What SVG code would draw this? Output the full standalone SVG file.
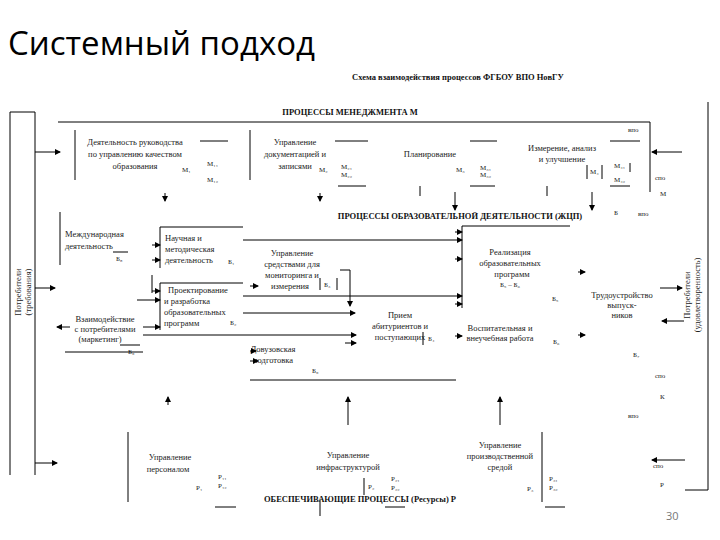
<svg xmlns="http://www.w3.org/2000/svg" width="720" height="540" viewBox="0 0 720 540">
<defs>
<marker id="a" markerWidth="6" markerHeight="6" refX="5" refY="3" orient="auto" markerUnits="userSpaceOnUse"><path d="M0,0 L6,3 L0,6z" fill="#000"/></marker>
<style>
.t{font-family:"Liberation Serif",serif;font-size:8.5px;fill:#222}
.s{font-family:"Liberation Serif",serif;font-size:7px;fill:#222}
.h{font-family:"Liberation Serif",serif;font-size:8.5px;font-weight:bold;fill:#111}
line,polyline{stroke:#000;stroke-width:1;fill:none}
.ar{marker-end:url(#a)}
</style>
</defs>
<rect width="720" height="540" fill="#fff"/>
<text x="8" y="55" font-family="'Open Sans','Liberation Sans',sans-serif" font-size="33" fill="#000">Системный подход</text>
<text x="352" y="80" class="h" font-size="11.5">Схема взаимодействия процессов ФГБОУ ВПО НовГУ</text>

<g id="frames">
<polyline points="35,475 35,112 10,112 10,475"/>
<polyline points="708,102 708,490 685,490"/>
<text class="t" font-size="10" transform="translate(21,292) rotate(-90)" text-anchor="middle">Потребители</text>
<text class="t" font-size="10" transform="translate(31,292) rotate(-90)" text-anchor="middle">(требования)</text>
<text class="t" font-size="10" transform="translate(690,295) rotate(-90)" text-anchor="middle">Потребители</text>
<text class="t" font-size="10" transform="translate(700,295) rotate(-90)" text-anchor="middle">(удовлетворенность)</text>
</g>

<g id="management">
<text class="h" x="350" y="115" text-anchor="middle">ПРОЦЕССЫ МЕНЕДЖМЕНТА   М</text>
<polyline points="58,122 650,122 650,192"/>
<text class="s" x="628" y="132">впо</text>
<text class="s" x="655" y="180">спо</text>
<text class="s" x="660" y="196">М</text>
<line x1="75" y1="130" x2="75" y2="180"/>
<text class="t" x="135" y="145" text-anchor="middle">Деятельность руководства</text>
<text class="t" x="135" y="157" text-anchor="middle">по управлению качеством</text>
<text class="t" x="135" y="169" text-anchor="middle">образования</text>
<text class="s" x="182" y="172">М₁</text>
<text class="s" x="207" y="166">М₁₁</text>
<text class="s" x="207" y="182">М₁₂</text>
<line x1="200" y1="141" x2="228" y2="141"/>
<line x1="250" y1="130" x2="250" y2="180"/>
<text class="t" x="295" y="145" text-anchor="middle">Управление</text>
<text class="t" x="295" y="157" text-anchor="middle">документацией и</text>
<text class="t" x="295" y="169" text-anchor="middle">записями</text>
<text class="s" x="319" y="172">М₂</text>
<text class="s" x="341" y="169">М₂₁</text>
<text class="s" x="341" y="177">М₂₂</text>
<line x1="335" y1="141" x2="368" y2="141"/>
<line x1="338" y1="186" x2="366" y2="186"/>
<text class="t" x="430" y="157" text-anchor="middle">Планирование</text>
<text class="s" x="456" y="172">М₃</text>
<text class="s" x="480" y="170">М₃₁</text>
<text class="s" x="480" y="177">М₃₂</text>
<line x1="470" y1="141" x2="497" y2="141"/>
<line x1="470" y1="186" x2="495" y2="186"/>
<line x1="420" y1="186" x2="420" y2="196"/>
<text class="t" x="562" y="151" text-anchor="middle">Измерение, анализ</text>
<text class="t" x="562" y="162" text-anchor="middle">и улучшение</text>
<line x1="587" y1="165" x2="587" y2="179"/>
<line x1="602" y1="165" x2="602" y2="179"/>
<text class="s" x="590" y="174">М₄</text>
<text class="s" x="614" y="168">М₄₁</text>
<text class="s" x="614" y="182">М₄₂</text>
<line x1="630" y1="163" x2="630" y2="172"/>
<line x1="610" y1="141" x2="640" y2="141"/>
<line x1="610" y1="186" x2="630" y2="186"/>
<line x1="547" y1="186" x2="547" y2="196"/>
</g>

<g id="education">
<text class="h" x="460" y="219" text-anchor="middle">ПРОЦЕССЫ ОБРАЗОВАТЕЛЬНОЙ ДЕЯТЕЛЬНОСТИ (ЖЦП)</text>
<text class="s" x="614" y="215">Б</text>
<text class="s" x="638" y="216">впо</text>
<line x1="60" y1="212" x2="60" y2="265"/>
<text class="t" x="65" y="237">Международная</text>
<text class="t" x="65" y="249">деятельность</text>
<line x1="113" y1="252" x2="128" y2="252"/>
<text class="s" x="116" y="261">Б₈</text>
<polyline points="243,227 160,227 160,268"/>
<text class="t" x="165" y="241">Научная и</text>
<text class="t" x="165" y="252">методическая</text>
<text class="t" x="165" y="263">деятельность</text>
<text class="s" x="228" y="264">Б₁</text>
<line x1="152" y1="275" x2="152" y2="293"/>
<polyline points="243,283 160,283 160,330"/>
<text class="t" x="168" y="293">Проектирование</text>
<text class="t" x="164" y="304">и разработка</text>
<text class="t" x="164" y="315">образовательных</text>
<text class="t" x="164" y="326">программ</text>
<text class="s" x="230" y="325">Б₂</text>
<text class="t" x="105" y="322" text-anchor="middle">Взаимодействие</text>
<text class="t" x="105" y="332" text-anchor="middle">с потребителями</text>
<text class="t" x="100" y="342" text-anchor="middle">(маркетинг)</text>
<line x1="120" y1="345" x2="140" y2="345"/>
<text class="s" x="128" y="354">Б₉</text>
<line x1="65" y1="352" x2="143" y2="352"/>
<text class="t" x="292" y="256" text-anchor="middle">Управление</text>
<text class="t" x="292" y="267" text-anchor="middle">средствами для</text>
<text class="t" x="292" y="278" text-anchor="middle">мониторинга и</text>
<text class="t" x="290" y="289" text-anchor="middle">измерения</text>
<line x1="320" y1="278" x2="320" y2="290"/>
<line x1="337" y1="278" x2="337" y2="290"/>
<text class="s" x="324" y="287">Б₃</text>
<text class="t" x="400" y="318" text-anchor="middle">Прием</text>
<text class="t" x="400" y="329" text-anchor="middle">абитуриентов и</text>
<text class="t" x="400" y="340" text-anchor="middle">поступающих</text>
<line x1="423" y1="332" x2="423" y2="345"/>
<text class="s" x="428" y="341">Б₄</text>
<line x1="462" y1="226" x2="570" y2="226"/>
<line x1="462" y1="226" x2="462" y2="308"/>
<text class="t" x="510" y="255" text-anchor="middle">Реализация</text>
<text class="t" x="510" y="266" text-anchor="middle">образовательных</text>
<text class="t" x="512" y="277" text-anchor="middle">программ</text>
<text class="s" x="510" y="287" text-anchor="middle">Б₅ – Б₆</text>
<text class="s" x="552" y="301">Б₅</text>
<text class="t" x="500" y="331" text-anchor="middle">Воспитательная и</text>
<text class="t" x="500" y="341" text-anchor="middle">внеучебная работа</text>
<text class="s" x="553" y="344">Б₆</text>
<text class="t" x="622" y="298" text-anchor="middle">Трудоустройство</text>
<text class="t" x="622" y="308" text-anchor="middle">выпуск-</text>
<text class="t" x="622" y="318" text-anchor="middle">ников</text>
<text class="s" x="633" y="357">Б₇</text>
<text class="s" x="655" y="378">спо</text>
<text class="t" x="273" y="352" text-anchor="middle">Довузовская</text>
<text class="t" x="273" y="363" text-anchor="middle">подготовка</text>
<text class="s" x="312" y="373">Б₉</text>
<line x1="250" y1="380" x2="456" y2="380"/>
<text class="s" x="660" y="399">К</text>
<text class="s" x="628" y="418">впо</text>
</g>

<g id="resources">
<line x1="128" y1="432" x2="128" y2="502"/>
<text class="t" x="170" y="460" text-anchor="middle">Управление</text>
<text class="t" x="168" y="472" text-anchor="middle">персоналом</text>
<text class="s" x="196" y="490">Р₁</text>
<text class="s" x="218" y="479">Р₁₁</text>
<text class="s" x="218" y="488">Р₁₂</text>
<line x1="215" y1="507" x2="236" y2="507"/>
<text class="t" x="348" y="458" text-anchor="middle">Управление</text>
<text class="t" x="348" y="470" text-anchor="middle">инфраструктурой</text>
<line x1="364" y1="478" x2="364" y2="495"/>
<text class="s" x="368" y="489">Р₂</text>
<text class="s" x="391" y="481">Р₂₁</text>
<text class="s" x="391" y="490">Р₂₂</text>
<line x1="320" y1="500" x2="320" y2="516"/>
<line x1="385" y1="507" x2="405" y2="507"/>
<text class="t" x="500" y="448" text-anchor="middle">Управление</text>
<text class="t" x="500" y="459" text-anchor="middle">производственной</text>
<text class="t" x="500" y="470" text-anchor="middle">средой</text>
<line x1="542" y1="432" x2="542" y2="502"/>
<text class="s" x="527" y="491">Р₃</text>
<text class="s" x="549" y="481">Р₃₁</text>
<text class="s" x="549" y="490">Р₃₂</text>
<line x1="545" y1="507" x2="565" y2="507"/>
<text class="s" x="653" y="468">спо</text>
<text class="s" x="660" y="487">Р</text>
<text class="h" x="360" y="502" text-anchor="middle">ОБЕСПЕЧИВАЮЩИЕ ПРОЦЕССЫ (Ресурсы)   Р</text>
<text x="666" y="520" font-family="'Open Sans','Liberation Sans',sans-serif" font-size="11" fill="#777">30</text>
</g>

<g id="connectors">
<line class="ar" x1="35" y1="152" x2="60" y2="152"/>
<line class="ar" x1="682" y1="152" x2="652" y2="152"/>
<line class="ar" x1="165" y1="193" x2="165" y2="201"/>
<line class="ar" x1="320" y1="193" x2="320" y2="201"/>
<line class="ar" x1="455" y1="192" x2="455" y2="210"/>
<line class="ar" x1="592" y1="192" x2="592" y2="210"/>
<line class="ar" x1="35" y1="288" x2="55" y2="288"/>
<line class="ar" x1="152" y1="245" x2="160" y2="245"/>
<line class="ar" x1="152" y1="260" x2="160" y2="260"/>
<line class="ar" x1="152" y1="291" x2="160" y2="291"/>
<line class="ar" x1="137" y1="300" x2="160" y2="300"/>
<line class="ar" x1="143" y1="327" x2="160" y2="327"/>
<line class="ar" x1="70" y1="327" x2="57" y2="327"/>
<line class="ar" x1="243" y1="240" x2="462" y2="240"/>
<line class="ar" x1="455" y1="232" x2="462" y2="232"/>
<line class="ar" x1="455" y1="259" x2="462" y2="259"/>
<line class="ar" x1="243" y1="296" x2="462" y2="296"/>
<line class="ar" x1="455" y1="304" x2="462" y2="304"/>
<line class="ar" x1="250" y1="286" x2="258" y2="286"/>
<polyline class="ar" points="340,270 350,270 350,306"/>
<line class="ar" x1="243" y1="313" x2="355" y2="313"/>
<line class="ar" x1="143" y1="335" x2="356" y2="335"/>
<line class="ar" x1="345" y1="343" x2="356" y2="343"/>
<line class="ar" x1="455" y1="336" x2="462" y2="336"/>
<line class="ar" x1="578" y1="272" x2="585" y2="272"/>
<line class="ar" x1="578" y1="335" x2="585" y2="335"/>
<line class="ar" x1="660" y1="288" x2="682" y2="288"/>
<line class="ar" x1="684" y1="321" x2="662" y2="321"/>
<line class="ar" x1="250" y1="351" x2="256" y2="351"/>
<line class="ar" x1="250" y1="361" x2="258" y2="361"/>
<line class="ar" x1="168" y1="405" x2="168" y2="397"/>
<line class="ar" x1="348" y1="425" x2="348" y2="397"/>
<line class="ar" x1="500" y1="425" x2="500" y2="397"/>
<line class="ar" x1="35" y1="463" x2="57" y2="463"/>
<line class="ar" x1="685" y1="460" x2="652" y2="460"/>
</g>
</svg>
